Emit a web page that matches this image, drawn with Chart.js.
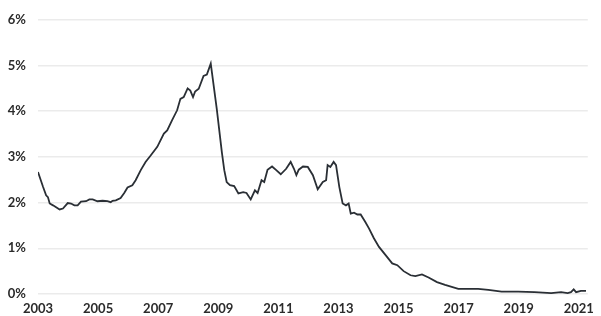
<!DOCTYPE html>
<html>
<head>
<meta charset="utf-8">
<script src="https://cdn.jsdelivr.net/npm/chart.js@4"></script>
<style>
  html, body { margin: 0; padding: 0; background: #fff; }
  #wrap { width: 601px; height: 316px; }
</style>
</head>
<body>
<div id="wrap"><canvas id="rate"></canvas></div>
<script>
// decimal year of each reading
const years = [
  2003.00, 2003.17, 2003.27, 2003.33, 2003.39, 2003.50, 2003.72, 2003.83, 2003.99, 2004.10,
  2004.21, 2004.32, 2004.43, 2004.60, 2004.71, 2004.82, 2004.98, 2005.15, 2005.31, 2005.42,
  2005.48, 2005.59, 2005.75, 2005.87, 2005.98, 2006.14, 2006.25, 2006.42, 2006.58, 2006.75,
  2006.97, 2007.19, 2007.30, 2007.46, 2007.63, 2007.74, 2007.85, 2007.98, 2008.07, 2008.16,
  2008.23, 2008.35, 2008.51, 2008.62, 2008.75, 2008.95, 2009.12, 2009.20, 2009.28, 2009.39,
  2009.53, 2009.67, 2009.83, 2009.94, 2010.08, 2010.22, 2010.31, 2010.44, 2010.53, 2010.64,
  2010.79, 2010.93, 2011.08, 2011.26, 2011.41, 2011.52, 2011.60, 2011.68, 2011.82, 2011.98,
  2012.15, 2012.31, 2012.48, 2012.59, 2012.64, 2012.73, 2012.84, 2012.92, 2013.03, 2013.14,
  2013.25, 2013.34, 2013.41, 2013.52, 2013.63, 2013.74, 2013.89, 2014.02, 2014.18, 2014.35,
  2014.57, 2014.79, 2014.96, 2015.17, 2015.40, 2015.56, 2015.78, 2016.00, 2016.28, 2016.55,
  2016.99, 2017.32, 2017.65, 2017.99, 2018.43, 2018.98, 2019.53, 2020.08, 2020.41, 2020.63,
  2020.74, 2020.83, 2020.91, 2021.07, 2021.24
];

// rate in percent
const rates = [
  2.67, 2.34, 2.16, 2.12, 1.98, 1.94, 1.85, 1.87, 1.99, 1.98,
  1.94, 1.94, 2.02, 2.03, 2.07, 2.07, 2.03, 2.04, 2.03, 2.01,
  2.04, 2.05, 2.10, 2.21, 2.33, 2.38, 2.49, 2.71, 2.89, 3.03,
  3.22, 3.51, 3.58, 3.80, 4.02, 4.27, 4.31, 4.50, 4.45, 4.31,
  4.43, 4.49, 4.77, 4.80, 5.04, 4.05, 3.10, 2.71, 2.45, 2.38,
  2.36, 2.20, 2.23, 2.21, 2.07, 2.27, 2.21, 2.49, 2.45, 2.72,
  2.79, 2.71, 2.62, 2.74, 2.89, 2.74, 2.60, 2.72, 2.79, 2.78,
  2.60, 2.29, 2.45, 2.49, 2.82, 2.78, 2.89, 2.82, 2.34, 1.98,
  1.94, 1.98, 1.76, 1.78, 1.74, 1.74, 1.58, 1.43, 1.22, 1.03,
  0.85, 0.67, 0.63, 0.50, 0.41, 0.39, 0.43, 0.36, 0.26, 0.20,
  0.11, 0.11, 0.11, 0.09, 0.05, 0.05, 0.04, 0.02, 0.04, 0.02,
  0.04, 0.10, 0.04, 0.07, 0.07
];

const yearTicks = [2003, 2005, 2007, 2009, 2011, 2013, 2015, 2017, 2019, 2021];
const pctTicks = [0, 1, 2, 3, 4, 5, 6];

const tickFont = { family: 'Lato', size: 13, weight: 'bold' };

new Chart(document.getElementById('rate'), {
  type: 'line',
  data: {
    datasets: [{
      data: years.map((y, i) => ({ x: y, y: rates[i] })),
      borderColor: '#2a2f35',
      borderWidth: 1.8,
      pointRadius: 0,
      tension: 0,
      fill: false
    }]
  },
  options: {
    responsive: true,
    maintainAspectRatio: false,
    animation: false,
    layout: { padding: { top: 19, right: 8, left: 0, bottom: 0 } },
    plugins: {
      legend: { display: false },
      tooltip: { enabled: false }
    },
    scales: {
      x: {
        type: 'linear',
        min: 2003,
        max: 2021.3,
        afterBuildTicks: (scale) => {
          scale.ticks = yearTicks.map(v => ({ value: v }));
        },
        afterFit: (scale) => { scale.height = 22; },
        grid: { display: false, drawTicks: false },
        border: { display: false },
        ticks: {
          padding: 7,
          color: '#2b2b2b',
          font: tickFont,
          maxRotation: 0,
          callback: (v) => String(v)
        }
      },
      y: {
        min: 0,
        max: 6,
        afterBuildTicks: (scale) => {
          scale.ticks = pctTicks.map(v => ({ value: v }));
        },
        afterFit: (scale) => { scale.width = 38; },
        grid: { color: '#ebebeb', lineWidth: 1.5, drawTicks: false },
        border: { display: false },
        ticks: {
          padding: 12,
          color: '#2b2b2b',
          font: tickFont,
          callback: (v) => v + '%'
        }
      }
    }
  }
});
</script>
</body>
</html>
